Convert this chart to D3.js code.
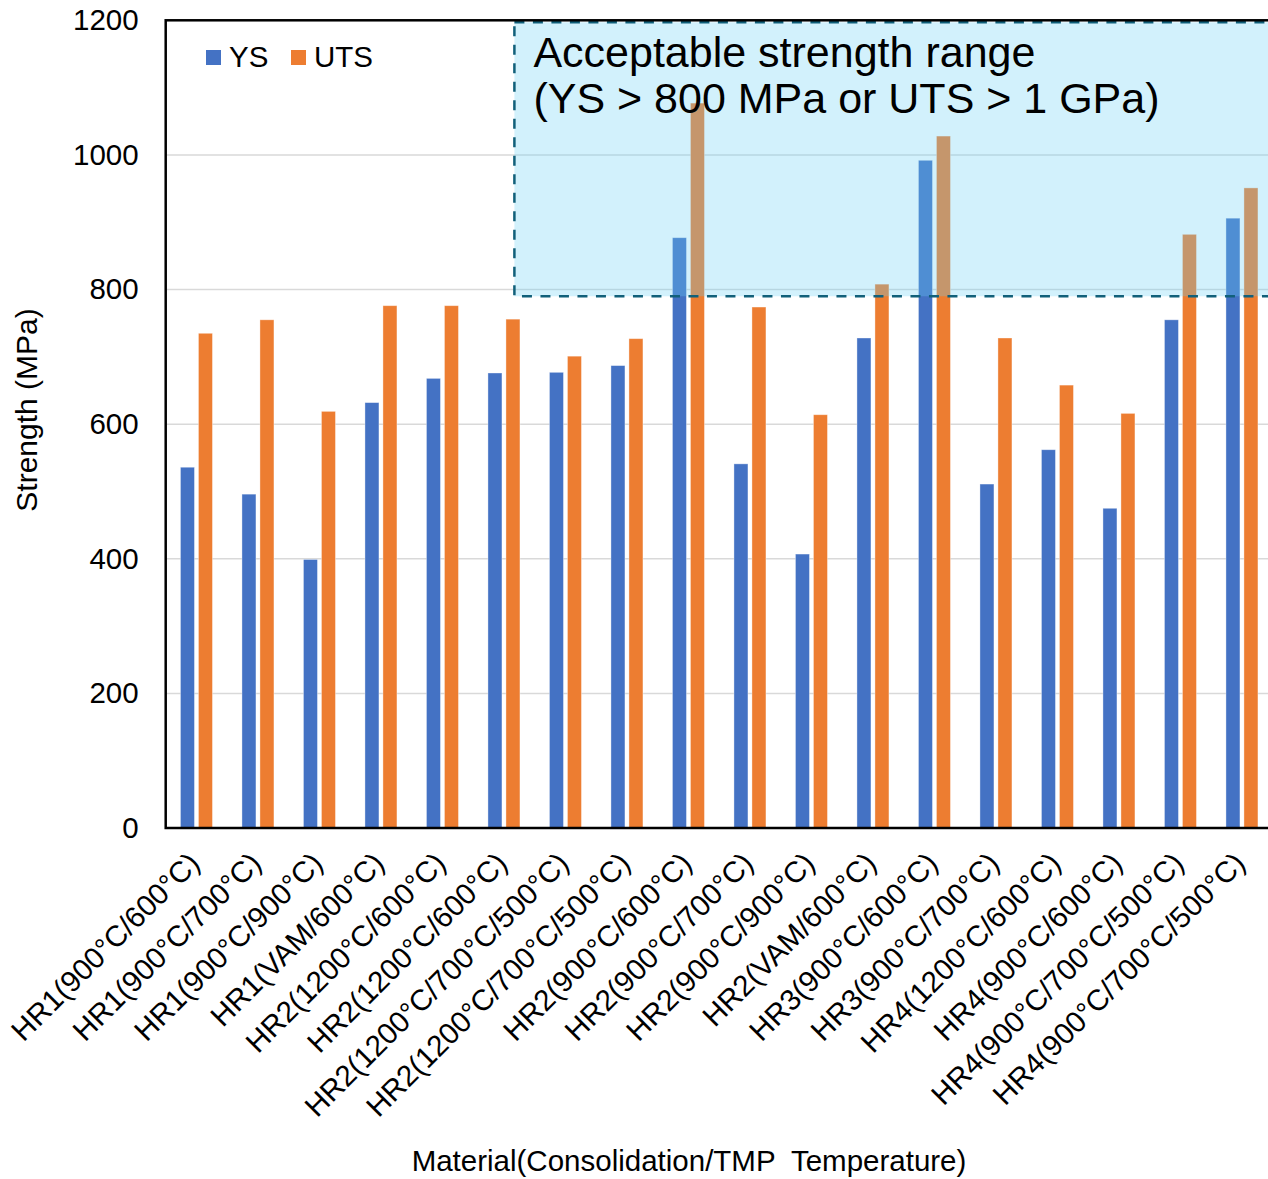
<!DOCTYPE html>
<html>
<head>
<meta charset="utf-8">
<script src="https://cdn.jsdelivr.net/npm/d3@7/dist/d3.min.js"></script>
<style>
  html, body { margin: 0; padding: 0; background: #ffffff; }
  svg { display: block; }
  text { font-family: "Liberation Sans", Arial, sans-serif; fill: #000; }
</style>
</head>
<body>
<svg id="chart" width="1268" height="1179"></svg>
<script>
// Materials, labelled by consolidation / TMP temperature
const categories = [
  "HR1(900°C/600°C)", "HR1(900°C/700°C)", "HR1(900°C/900°C)", "HR1(VAM/600°C)",
  "HR2(1200°C/600°C)", "HR2(1200°C/600°C)", "HR2(1200°C/700°C/500°C)", "HR2(1200°C/700°C/500°C)",
  "HR2(900°C/600°C)", "HR2(900°C/700°C)", "HR2(900°C/900°C)", "HR2(VAM/600°C)",
  "HR3(900°C/600°C)", "HR3(900°C/700°C)", "HR4(1200°C/600°C)", "HR4(900°C/600°C)",
  "HR4(900°C/700°C/500°C)", "HR4(900°C/700°C/500°C)"
];

// Yield strength (MPa)
const ysValues = [536, 496, 399, 632, 668, 676, 677, 687, 877, 541, 407, 728, 992, 511, 562, 475, 755, 906];
// Ultimate tensile strength (MPa)
const utsValues = [735, 755, 619, 776, 776, 756, 701, 727, 1077, 774, 614, 808, 1028, 728, 658, 616, 882, 951];

const seriesNames = ["YS", "UTS"];
const seriesColors = ["#4472C4", "#ED7D31"];
const yTicks = [0, 200, 400, 600, 800, 1000, 1200];

// Shaded "acceptable" region: lower bound and left edge (in category units)
const acceptableFloor = 790;
const acceptableStartCategory = 5.67;
const acceptableText = ["Acceptable strength range", "(YS > 800 MPa or UTS > 1 GPa)"];

const svg = d3.select("#chart");
const plot = { left: 165.7, top: 20.3, right: 1272.7, bottom: 828 };
const labelSize = "29.5px";

const x = d3.scaleBand()
  .domain(d3.range(categories.length))
  .range([plot.left, plot.right])
  .paddingInner(0).paddingOuter(0);

const step = x.step();
const xInner = d3.scaleBand()
  .domain(seriesNames)
  .range([step / 2 - 16, step / 2 + 16])
  .paddingInner(4 / 18);

const y = d3.scaleLinear().domain([0, 1200]).range([plot.bottom, plot.top]);

// category-unit scale for positioning the shaded region
const xCat = d3.scaleLinear().domain([0, categories.length]).range([plot.left, plot.right]);

// gridlines
svg.append("g")
  .selectAll("line")
  .data(yTicks.filter(d => d > 0 && d < 1200))
  .join("line")
  .attr("x1", plot.left).attr("x2", plot.right)
  .attr("y1", d => y(d)).attr("y2", d => y(d))
  .attr("stroke", "#D9D9D9").attr("stroke-width", 1.5);

// bars
const rows = categories.map((c, i) => ({ i, values: [ysValues[i], utsValues[i]] }));
const groups = svg.append("g").selectAll("g")
  .data(rows)
  .join("g")
  .attr("transform", d => `translate(${x(d.i)},0)`);

groups.selectAll("rect")
  .data(d => d.values.map((v, k) => ({ key: seriesNames[k], v, k })))
  .join("rect")
  .attr("x", d => xInner(d.key))
  .attr("width", xInner.bandwidth())
  .attr("y", d => y(d.v))
  .attr("height", d => y(0) - y(d.v))
  .attr("fill", d => seriesColors[d.k])
  .attr("stroke", "#ffffff")
  .attr("stroke-opacity", 0.45)
  .attr("stroke-width", 0.8);

// shaded acceptable-strength region (translucent, over the bars)
const boxX = xCat(acceptableStartCategory);
const boxY = y(1200) + 2;
svg.append("rect")
  .attr("x", boxX)
  .attr("y", boxY)
  .attr("width", plot.right + 20 - boxX)
  .attr("height", y(acceptableFloor) - boxY)
  .attr("fill", "rgb(105,208,245)")
  .attr("fill-opacity", 0.3)
  .attr("stroke", "#11607A")
  .attr("stroke-width", 2.5)
  .attr("stroke-dasharray", "10,8.5");

const note = svg.append("text")
  .attr("x", boxX + 19)
  .attr("y", 67)
  .style("font-size", "43px");
note.selectAll("tspan")
  .data(acceptableText)
  .join("tspan")
  .attr("x", boxX + 19)
  .attr("dy", (d, i) => i === 0 ? 0 : 46)
  .text(d => d);

// plot frame
svg.append("rect")
  .attr("x", plot.left).attr("y", plot.top)
  .attr("width", plot.right - plot.left).attr("height", plot.bottom - plot.top)
  .attr("fill", "none").attr("stroke", "#000").attr("stroke-width", 2.5);

// y axis
const yAxis = svg.append("g")
  .attr("transform", `translate(${plot.left},0)`)
  .call(d3.axisLeft(y).tickValues(yTicks).tickSize(0).tickPadding(27).tickFormat(d3.format("d")));
yAxis.select(".domain").remove();
yAxis.selectAll("text").style("font-size", labelSize).attr("font-family", null);

// x axis with rotated labels
const xAxis = svg.append("g")
  .attr("transform", `translate(0,${plot.bottom})`)
  .call(d3.axisBottom(x).tickSize(0).tickFormat(i => categories[i]));
xAxis.select(".domain").remove();
xAxis.selectAll("text")
  .style("font-size", labelSize)
  .attr("font-family", null)
  .attr("text-anchor", "end")
  .attr("y", 0).attr("dy", 0)
  .attr("transform", "translate(5,37) rotate(-45)");

// legend
const legend = svg.append("g").attr("transform", "translate(206,50)");
const legendOffsets = [0, 85];
seriesNames.forEach((name, k) => {
  const g = legend.append("g").attr("transform", `translate(${legendOffsets[k]},0)`);
  g.append("rect").attr("width", 15).attr("height", 15).attr("fill", seriesColors[k]);
  g.append("text").attr("x", 23).attr("y", 17).style("font-size", labelSize).text(name);
});

// axis titles
svg.append("text")
  .attr("transform", "translate(37,410) rotate(-90)")
  .attr("text-anchor", "middle")
  .style("font-size", "30px")
  .text("Strength (MPa)");

svg.append("text")
  .attr("x", 689).attr("y", 1171)
  .attr("text-anchor", "middle")
  .style("font-size", "29.5px")
  .attr("xml:space", "preserve")
  .style("white-space", "pre")
  .text("Material(Consolidation/TMP  Temperature)");
</script>
</body>
</html>
